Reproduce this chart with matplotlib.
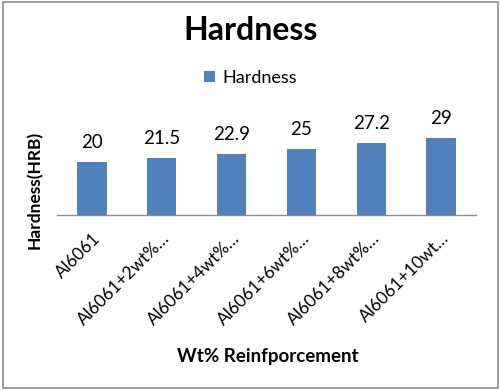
import matplotlib

matplotlib.use("Agg")
import matplotlib.pyplot as plt
from matplotlib.patches import Rectangle

categories = [
    "Al6061",
    "Al6061+2wt%…",
    "Al6061+4wt%…",
    "Al6061+6wt%…",
    "Al6061+8wt%…",
    "Al6061+10wt…",
]
hardness = [20, 21.5, 22.9, 25, 27.2, 29]
value_labels = ["20", "21.5", "22.9", "25", "27.2", "29"]

plt.rcParams["font.family"] = ["Lato", "DejaVu Sans"]

fig = plt.figure(figsize=(5.01, 3.90), dpi=100)
fig.patches.append(
    Rectangle((0.006, 0.004), 0.988, 0.99, transform=fig.transFigure,
              fill=False, edgecolor="#8c8c8c", lw=1.2)
)

ax = fig.add_axes([0.114, 0.4487, 0.836, 0.2378])
x = range(len(categories))
bars = ax.bar(x, hardness, width=0.42, color="#4F81BD", label="Hardness", zorder=2)

for rect, lab in zip(bars, value_labels):
    ax.annotate(lab, (rect.get_x() + rect.get_width() / 2, rect.get_height()),
                xytext=(0, 8), textcoords="offset points",
                ha="center", va="bottom", fontsize=13.5)

ax.set_xlim(-0.5, len(categories) - 0.5)
ax.set_ylim(0, 35)
ax.set_yticks([])
for side in ("top", "right", "left"):
    ax.spines[side].set_visible(False)
ax.spines["bottom"].set_color("#8c8c8c")
ax.spines["bottom"].set_linewidth(1.0)

ax.set_xticks(list(x))
ax.set_xticklabels(categories, rotation=45, ha="right", rotation_mode="anchor", fontsize=12.5)
ax.tick_params(axis="x", length=0, pad=11)

ax.set_ylabel("Hardness(HRB)", fontsize=12.5, fontweight="bold")
ax.yaxis.set_label_coords(-0.033, 0.27)
fig.text(0.535, 0.085, "Wt% Reinfporcement", ha="center", va="center",
         fontsize=13.5, fontweight="bold")
fig.text(0.5, 0.922, "Hardness", ha="center", va="center", fontsize=23, fontweight="bold")

fig.legend(handles=[bars], labels=["Hardness"], loc="center", bbox_to_anchor=(0.5, 0.8),
           frameon=False, fontsize=13, handlelength=0.6, handleheight=0.6,
           handletextpad=0.4)

fig.savefig("out.png", dpi=100)
